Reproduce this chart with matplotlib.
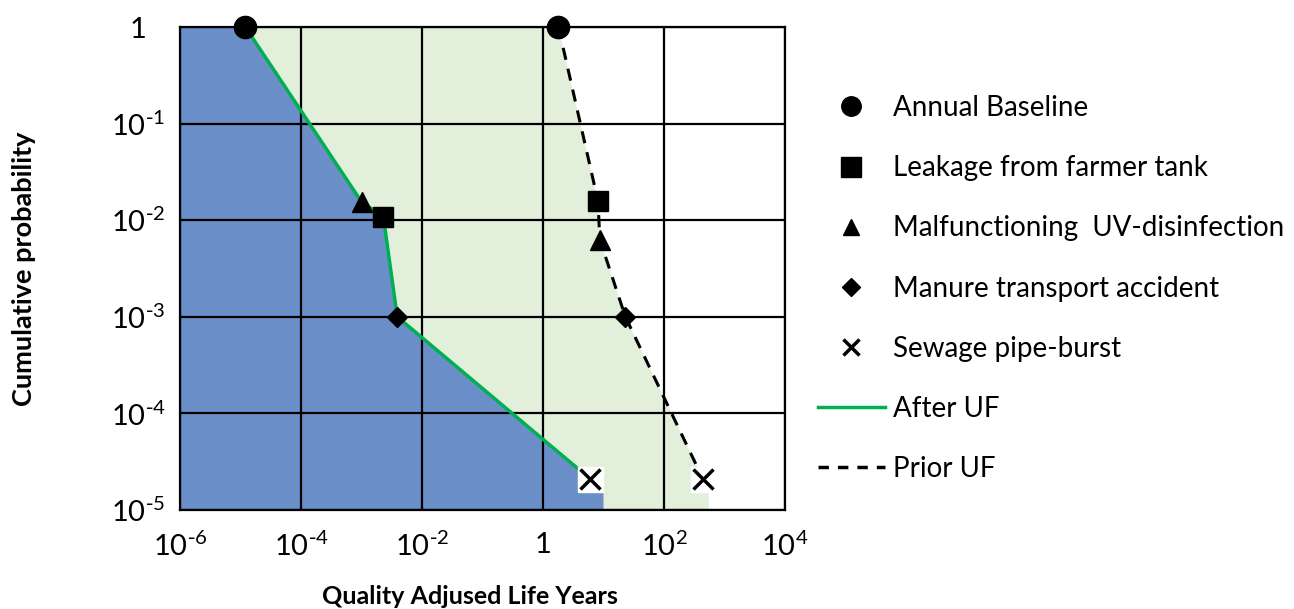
import numpy as np
from matplotlib import pyplot as plt
from matplotlib.lines import Line2D

plt.rcParams['font.family'] = ['Lato', 'DejaVu Sans']

# scenario points, order as the lines connect them
after_labels = ['Annual Baseline', 'Malfunctioning  UV-disinfection', 'Leakage from farmer tank',
                'Manure transport accident', 'Sewage pipe-burst']
after_qaly = [1.2e-5, 1.0e-3, 2.3e-3, 3.9e-3, 6.0]
after_prob = [1.0, 0.0155, 0.0108, 1.0e-3, 2.1e-5]

prior_labels = ['Annual Baseline', 'Leakage from farmer tank', 'Malfunctioning  UV-disinfection',
                'Manure transport accident', 'Sewage pipe-burst']
prior_qaly = [1.8, 8.1, 8.7, 23.0, 440.0]
prior_prob = [1.0, 0.0158, 0.0063, 1.0e-3, 2.1e-5]

# where the shaded areas stop at the bottom
after_fill_end = 10.0
prior_fill_end = 550.0

legend_order = ['Annual Baseline', 'Leakage from farmer tank', 'Malfunctioning  UV-disinfection',
                'Manure transport accident', 'Sewage pipe-burst']
markers = {'Annual Baseline': ('o', 16), 'Leakage from farmer tank': ('s', 15),
           'Malfunctioning  UV-disinfection': ('^', 14), 'Manure transport accident': ('D', 10),
           'Sewage pipe-burst': ('x', 14)}

xticks = [1e-6, 1e-4, 1e-2, 1, 1e2, 1e4]
xticklabels = ['$\\mathregular{10^{\\text{-}6}}$', '$\\mathregular{10^{\\text{-}4}}$',
               '$\\mathregular{10^{\\text{-}2}}$', '1',
               '$\\mathregular{10^{2}}$', '$\\mathregular{10^{4}}$']
yticks = [1, 1e-1, 1e-2, 1e-3, 1e-4, 1e-5]
yticklabels = ['1', '$\\mathregular{10^{\\text{-}1}}$', '$\\mathregular{10^{\\text{-}2}}$',
               '$\\mathregular{10^{\\text{-}3}}$', '$\\mathregular{10^{\\text{-}4}}$',
               '$\\mathregular{10^{\\text{-}5}}$']

XMIN, XMAX = 1e-6, 1e4
YMIN, YMAX = 1e-5, 1

fig = plt.figure(figsize=(12.94, 6.09), dpi=100)
ax = fig.add_axes([180 / 1294, 1 - 510 / 609, 605 / 1294, 483 / 609])
ax.set_xscale('log')
ax.set_yscale('log')
ax.set_xlim(XMIN, XMAX)
ax.set_ylim(YMIN, YMAX)

# shaded areas
px = [XMIN] + prior_qaly + [prior_fill_end, prior_fill_end, XMIN]
py = [YMAX] + prior_prob + [prior_prob[-1], YMIN, YMIN]
ax.fill(px, py, color='#e2efda', lw=0, zorder=1)
bx = [XMIN] + after_qaly + [after_fill_end, after_fill_end, XMIN]
by = [YMAX] + after_prob + [after_prob[-1], YMIN, YMIN]
ax.fill(bx, by, color='#6a8fc8', lw=0, zorder=2)

ax.set_xticks(xticks)
ax.set_xticklabels(xticklabels)
ax.set_yticks(yticks)
ax.set_yticklabels(yticklabels, ha='center')
ax.minorticks_off()
ax.tick_params(length=0, labelsize=21)
ax.tick_params(axis='x', pad=16)
ax.tick_params(axis='y', pad=30)
ax.grid(True, color='black', lw=1.6, zorder=3)
ax.set_axisbelow(False)
for s in ax.spines.values():
    s.set_linewidth(1.6)
    s.set_zorder(6)

ax.plot(after_qaly, after_prob, color='#00b050', lw=2.5, zorder=4)
ax.plot(prior_qaly, prior_prob, color='black', lw=2.2, ls=(0, (4, 3)), zorder=4)

for qs, ps, labs in [(after_qaly, after_prob, after_labels), (prior_qaly, prior_prob, prior_labels)]:
    for q, p, lab in zip(qs, ps, labs):
        m, ms = markers[lab]
        if m == 'x':
            ax.plot(q, p, marker='s', ms=18, color='white', ls='none', zorder=5, clip_on=False)
            ax.plot(q, p, marker='x', ms=ms, mew=2.5, color='black', ls='none', zorder=7, clip_on=False)
        else:
            ax.plot(q, p, marker=m, ms=ms, color='black', ls='none', zorder=7, clip_on=False)

ax.set_xlabel('Quality Adjused Life Years', fontsize=18, fontweight='bold', labelpad=16)
ax.xaxis.set_label_coords((470 - 180) / 605, -0.155)
ax.set_ylabel('Cumulative probability', fontsize=19.5, fontweight='bold', labelpad=54)

handles = []
for lab in legend_order:
    m, ms = markers[lab]
    size = {'o': 14, 's': 14, '^': 12, 'D': 9, 'x': 11}[m]
    handles.append(Line2D([], [], marker=m, ms=size, mew=2.5 if m == 'x' else 1,
                          color='black', ls='none'))
handles.append(Line2D([], [], color='#00b050', lw=2.5))
handles.append(Line2D([], [], color='black', lw=2.5, ls=(0, (3, 2.6))))
labels = legend_order + ['After UF', 'Prior UF']
fig.legend(handles, labels, loc='upper left', bbox_to_anchor=(807 / 1294, 1 - 84 / 609),
           frameon=False, fontsize=20, handlelength=2.4, handletextpad=0.29,
           labelspacing=1.23, borderaxespad=0)

fig.savefig('out.png', dpi=100)
